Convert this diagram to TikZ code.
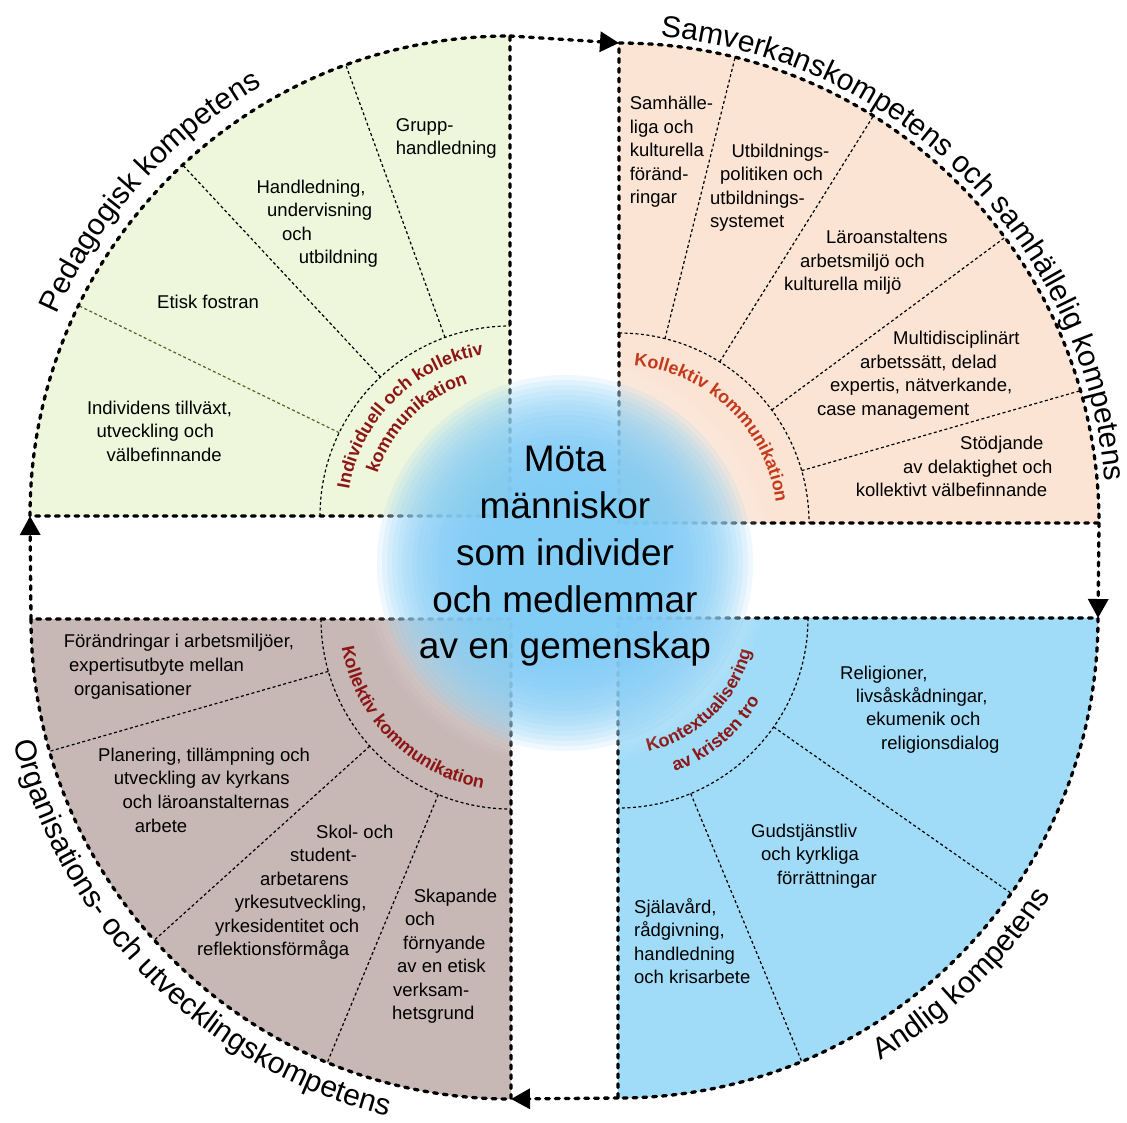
\documentclass[tikz,border=0pt]{standalone}
\usepackage{fontspec}
\setmainfont{Liberation Sans}
\usetikzlibrary{decorations.text,arrows.meta}
\definecolor{fillTL}{RGB}{238,246,219}
\definecolor{fillTR}{RGB}{251,228,212}
\definecolor{fillBL}{RGB}{199,183,181}
\definecolor{fillBR}{RGB}{160,220,248}
\definecolor{glowblue}{RGB}{128,204,246}
\definecolor{arcred}{RGB}{140,22,22}
\definecolor{arcorange}{RGB}{196,58,28}
\definecolor{divolive}{RGB}{85,100,40}
\newcommand\fItem{\fontsize{18.5pt}{23pt}\selectfont}
\newcommand\fCent{\fontsize{37pt}{47pt}\selectfont}
\newcommand\fOut{\fontsize{30pt}{36pt}\selectfont}
\newcommand\fArc{\fontsize{18pt}{22pt}\selectfont\bfseries}
\tikzset{
  border/.style={line width=3.3pt, dash pattern=on 3.8pt off 6pt, line cap=round},
  divider/.style={line width=1.2pt, dash pattern=on 3pt off 2.5pt},
  item/.style={anchor=base west, inner sep=0pt, font=\fItem},
  cent/.style={anchor=base, inner sep=0pt, font=\fCent},
  gapline/.style={border, -{Triangle[length=19pt,width=20pt]}},
  outlabel/.style={decorate, decoration={text along path, text align=center, text={|\fOut|#1}}},
  arclabel/.style 2 args={decorate, decoration={text along path, text align=center, text color=#1, text={|\fArc|#2}}},
  haloring/.style={fill=white, fill opacity=0.05},
  glowring/.style={fill=glowblue, fill opacity=0.13},
}
\begin{document}
\begin{tikzpicture}[x=1pt,y=1pt]
\useasboundingbox (0,0) rectangle (1127,-1122);
\coordinate (C1) at (510,-516);
\coordinate (C2) at (619,-523);
\coordinate (C3) at (511,-619);
\coordinate (C4) at (618,-618);
\coordinate (G) at (565,-563);
\path (C1) ++(-480,0) coordinate (TLw) (C1) ++(0,480) coordinate (TLn)
      (C2) ++(0,480) coordinate (TRn) (C2) ++(480,0) coordinate (TRe)
      (C4) ++(480,0) coordinate (BRe) (C4) ++(0,-480) coordinate (BRs)
      (C3) ++(0,-480) coordinate (BLs) (C3) ++(-480,0) coordinate (BLw);
% fills
\fill[fillTL] (C1) -- (TLw) arc[start angle=180,end angle=90,radius=480] -- cycle;
\fill[fillTR] (C2) -- (TRn) arc[start angle=90,end angle=0,radius=480] -- cycle;
\fill[fillBL] (C3) -- (BLw) arc[start angle=180,end angle=270,radius=480] -- cycle;
\fill[fillBR] (C4) -- (BRe) arc[start angle=0,end angle=-90,radius=480] -- cycle;
% dividers
\foreach \a in {110,133} \draw[divider, shift={(C1)}] (\a:190) -- (\a:480);
\draw[divider, divolive, shift={(C1)}] (154:190) -- (154:480);
\foreach \a in {76,58,36.5,16} \draw[divider, shift={(C2)}] (\a:190) -- (\a:480);
\foreach \a in {196,222,247.5} \draw[divider, shift={(C3)}] (\a:190) -- (\a:480);
\foreach \a in {325,292.5} \draw[divider, shift={(C4)}] (\a:190) -- (\a:480);
% inner arcs
\draw[divider, shift={(C1)}] (180:190) arc[start angle=180,end angle=90,radius=190];
\draw[divider, shift={(C2)}] (90:190) arc[start angle=90,end angle=0,radius=190];
\draw[divider, shift={(C3)}] (180:190) arc[start angle=180,end angle=270,radius=190];
\draw[divider, shift={(C4)}] (0:190) arc[start angle=0,end angle=-90,radius=190];
% borders
\draw[border] (C1) -- (TLw) arc[start angle=180,end angle=90,radius=480] -- cycle;
\draw[border] (C2) -- (TRn) arc[start angle=90,end angle=0,radius=480] -- cycle;
\draw[border] (C3) -- (BLw) arc[start angle=180,end angle=270,radius=480] -- cycle;
\draw[border] (C4) -- (BRe) arc[start angle=0,end angle=-90,radius=480] -- cycle;
% gap connectors
\draw[gapline] (TLn) -- (TRn);
\draw[gapline] (TRe) -- (BRe);
\draw[gapline] (BRs) -- (BLs);
\draw[gapline] (BLw) -- (TLw);
% items
\foreach \x/\y/\t [count=\i] in {
 395.7/131.5/{Grupp-}, 395.7/154.5/{handledning},
 256.4/193.5/{Handledning,}, 267/216.5/{undervisning}, 282/240/{och}, 298.6/263.5/{utbildning},
 157/308.5/{Etisk fostran},
 86.8/414.5/{Individens tillväxt,}, 96.4/437.5/{utveckling och}, 106.4/461/{välbefinnande},
 629.6/109.5/{Samhälle-}, 629.6/133/{liga och}, 629.6/156.5/{kulturella}, 629.6/180/{föränd-}, 629.6/203.5/{ringar},
 731.4/157/{Utbildnings-}, 720/180.5/{politiken och}, 710/204/{utbildnings-}, 710/227.5/{systemet},
 826/243.5/{Läroanstaltens}, 800/267/{arbetsmiljö och}, 784/290.5/{kulturella miljö},
 893/344.5/{Multidisciplinärt}, 860/368/{arbetssätt, delad}, 830/391.5/{expertis, nätverkande,}, 817/415/{case management},
 960/449.5/{Stödjande}, 903/473/{av delaktighet och}, 855.7/496.5/{kollektivt välbefinnande},
 63.6/647.5/{Förändringar i arbetsmiljöer,}, 69/671.5/{expertisutbyte mellan}, 74/695/{organisationer},
 98/761.5/{Planering, tillämpning och}, 113.6/784.5/{utveckling av kyrkans}, 122.5/808.5/{och läroanstalternas}, 134.6/832.5/{arbete},
 316/838/{Skol- och}, 290/861.5/{student-}, 260/885.5/{arbetarens}, 234.6/908.5/{yrkesutveckling,}, 215/932.5/{yrkesidentitet och}, 196.8/955.5/{reflektionsförmåga},
 413.6/902/{Skapande}, 405/925.5/{och}, 403/949.5/{förnyande}, 397/972.5/{av en etisk}, 393/996.5/{verksam-}, 392/1019.5/{hetsgrund},
 840/679/{Religioner,}, 855.7/702/{livsåskådningar,}, 866/725.5/{ekumenik och}, 881/749.5/{religionsdialog},
 751/837/{Gudstjänstliv}, 761/860.5/{och kyrkliga}, 776.8/884.5/{förrättningar},
 634/913/{Själavård,}, 634/936.5/{rådgivning,}, 634/960/{handledning}, 634/983.5/{och krisarbete}}
 \node[item] (t\i) at (\x,-\y) {\t};
% inner arc labels
\path[shift={(C1)}, arclabel={arcred}{Individuell och kollektiv}] (180:163) arc[start angle=180,end angle=90,radius=163];
\path[shift={(C1)}, arclabel={arcred}{kommunikation}] (180:139) arc[start angle=180,end angle=90,radius=139];
\path[shift={(C2)}, arclabel={arcorange}{Kollektiv kommunikation}] (91:158) arc[start angle=91,end angle=1,radius=158];
\path[shift={(C3)}, arclabel={arcred}{Kollektiv kommunikation}] (180:171.5) arc[start angle=180,end angle=270,radius=171.5];
\path[shift={(C4)}, arclabel={arcred}{Kontextualisering}] (269.5:137) arc[start angle=269.5,end angle=359.5,radius=137];
\path[shift={(C4)}, arclabel={arcred}{av kristen tro}] (265:164) arc[start angle=265,end angle=355,radius=164];
% outer labels
\path[shift={(C1)}, outlabel={Pedagogisk kompetens}] (178:496) arc[start angle=178,end angle=98,radius=496];
\path[shift={(C2)}, outlabel={Samverkanskompetens och samhällelig kompetens}] (95:488) arc[start angle=95,end angle=-5,radius=488];
\path[shift={(C3)}, outlabel={Organisations- och utvecklingskompetens}] (180:512) arc[start angle=180,end angle=270,radius=512];
\path[shift={(C4)}, outlabel={Andlig kompetens}] (270:514) arc[start angle=270,end angle=358,radius=514];
% glow
\foreach \r in {205,200,...,130} \fill[haloring] (G) circle (\r);
\foreach \r in {188,183,...,58} \fill[glowring] (G) circle (\r);
% centre text
\foreach \y/\t [count=\i] in {471/{Möta}, 518/{människor}, 565/{som individer}, 612/{och medlemmar}, 658/{av en gemenskap}}
 \node[cent] (c\i) at (565,-\y) {\t};
\end{tikzpicture}
\end{document}
